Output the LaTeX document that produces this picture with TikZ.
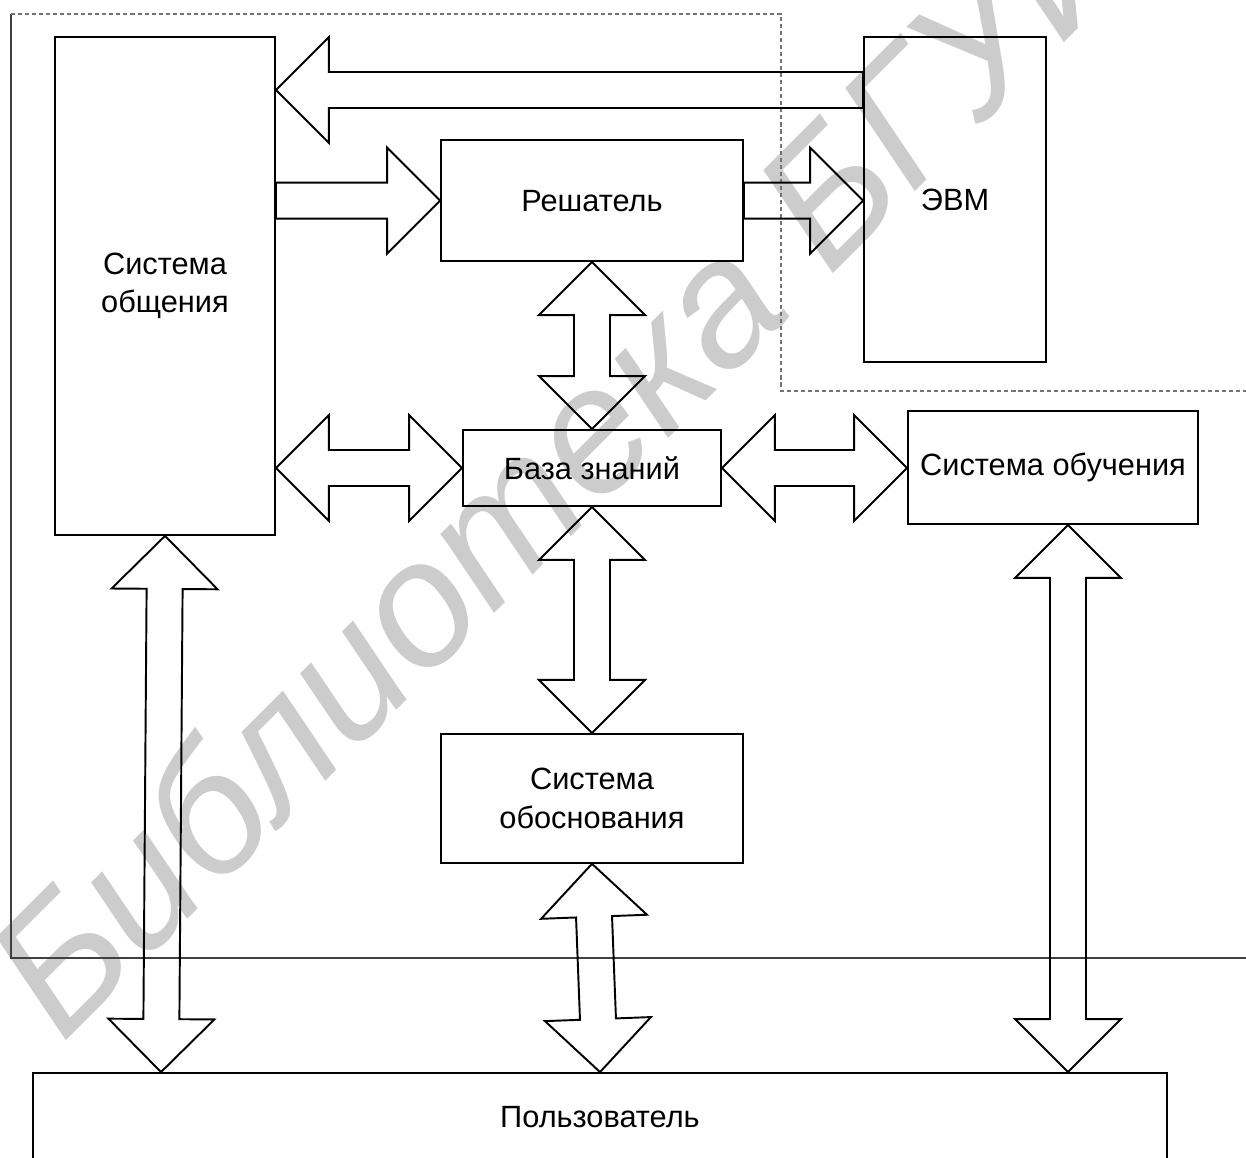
\documentclass[tikz,border=0pt]{standalone}
\usepackage{fontspec}
\setmainfont{Liberation Sans}
\usetikzlibrary{calc,positioning}

% sizes of the block arrows
\newcommand{\headlen}{1.06cm}
\newcommand{\headwid}{1.06cm}
\newcommand{\shaftwid}{0.36cm}

% two-headed block arrow from tip #1 to tip #2
\newcommand{\dblarrow}[2]{%
  \draw[blockarrow] (#1)
    -- ($(#1)!\headlen!(#2)!\headwid!90:(#2)$)
    -- ($(#1)!\headlen!(#2)!\shaftwid!90:(#2)$)
    -- ($(#2)!\headlen!(#1)!\shaftwid!-90:(#1)$)
    -- ($(#2)!\headlen!(#1)!\headwid!-90:(#1)$)
    -- (#2)
    -- ($(#2)!\headlen!(#1)!\headwid!90:(#1)$)
    -- ($(#2)!\headlen!(#1)!\shaftwid!90:(#1)$)
    -- ($(#1)!\headlen!(#2)!\shaftwid!-90:(#2)$)
    -- ($(#1)!\headlen!(#2)!\headwid!-90:(#2)$)
    -- cycle;}

% one-headed block arrow from tail #1 to tip #2
\newcommand{\sglarrow}[2]{%
  \draw[blockarrow] ($(#1)!\shaftwid!90:(#2)$)
    -- ($(#2)!\headlen!(#1)!\shaftwid!-90:(#1)$)
    -- ($(#2)!\headlen!(#1)!\headwid!-90:(#1)$)
    -- (#2)
    -- ($(#2)!\headlen!(#1)!\headwid!90:(#1)$)
    -- ($(#2)!\headlen!(#1)!\shaftwid!90:(#1)$)
    -- ($(#1)!\shaftwid!-90:(#2)$)
    -- cycle;}

\begin{document}
\begin{tikzpicture}[
    x=0.02cm, y=-0.02cm,
    box/.style={draw, line width=1.1pt, inner sep=0pt, align=center, font=\fontsize{17.5}{22}\selectfont},
    blockarrow/.style={line width=1.1pt, line join=miter},
    frame/.style={line width=0.6pt, black!75},
    wmark/.style={text=black!20, inner sep=0pt, font=\fontsize{101}{101}\selectfont\itshape}
]
\useasboundingbox (0,0) rectangle (1246,1158);

% watermark
\node[wmark, anchor=base west, rotate=45] (wm) at (62,1045) {Библиотека БГУИР};

% frame
\draw[frame] (1246,958) -- (11,958) -- (11,14);
\draw[frame, black!55, dash pattern=on 2.3pt off 1.7pt] (11,14) -- (781,14) -- (781,391) -- (1246,391);

% blocks
\node[box, minimum width=4.40cm, minimum height=9.96cm] (comm) at (165,286) {Система\\общения};
\node[box, minimum width=5.16cm, minimum height=1.52cm] (kb) at (592,468) {База знаний};
\node[box, minimum width=6.04cm, minimum height=2.42cm, above=3.34cm of kb] (solver) {Решатель};
\node[box, minimum width=6.04cm, minimum height=2.58cm, below=4.52cm of kb] (reason) {Система\\обоснования};
\node[box, minimum width=3.64cm, minimum height=6.50cm] (evm) at (955,199.5) {ЭВМ};
\node[box, minimum width=5.80cm, minimum height=2.26cm] (learn) at (1053,467.5) {Система обучения};
\node[box, minimum width=22.68cm, minimum height=1.78cm] (user) at (600,1117.5) {Пользователь};

% arrow ends
\coordinate (evmout) at (evm.west |- 0,90);
\coordinate (commin) at (comm.east |- 0,90);
\coordinate (commout) at (comm.east |- solver.west);
\coordinate (evmin) at (evm.west |- solver.east);
\coordinate (commkb) at (comm.east |- kb.west);
\coordinate (learnkb) at (learn.west |- kb.east);
\coordinate (usercomm) at ($(user.north -| comm.south)+(-4,0)$);
\coordinate (userreason) at ($(user.north -| reason.south)+(8,0)$);
\coordinate (learnbot) at ($(learn.south)+(15,0)$);
\coordinate (userlearn) at (user.north -| learnbot);

% arrows
\sglarrow{evmout}{commin}
\sglarrow{commout}{solver.west}
\sglarrow{solver.east}{evmin}
\dblarrow{solver.south}{kb.north}
\dblarrow{commkb}{kb.west}
\dblarrow{kb.east}{learnkb}
\dblarrow{kb.south}{reason.north}
\dblarrow{comm.south}{usercomm}
\dblarrow{reason.south}{userreason}
\dblarrow{learnbot}{userlearn}
\end{tikzpicture}
\end{document}
